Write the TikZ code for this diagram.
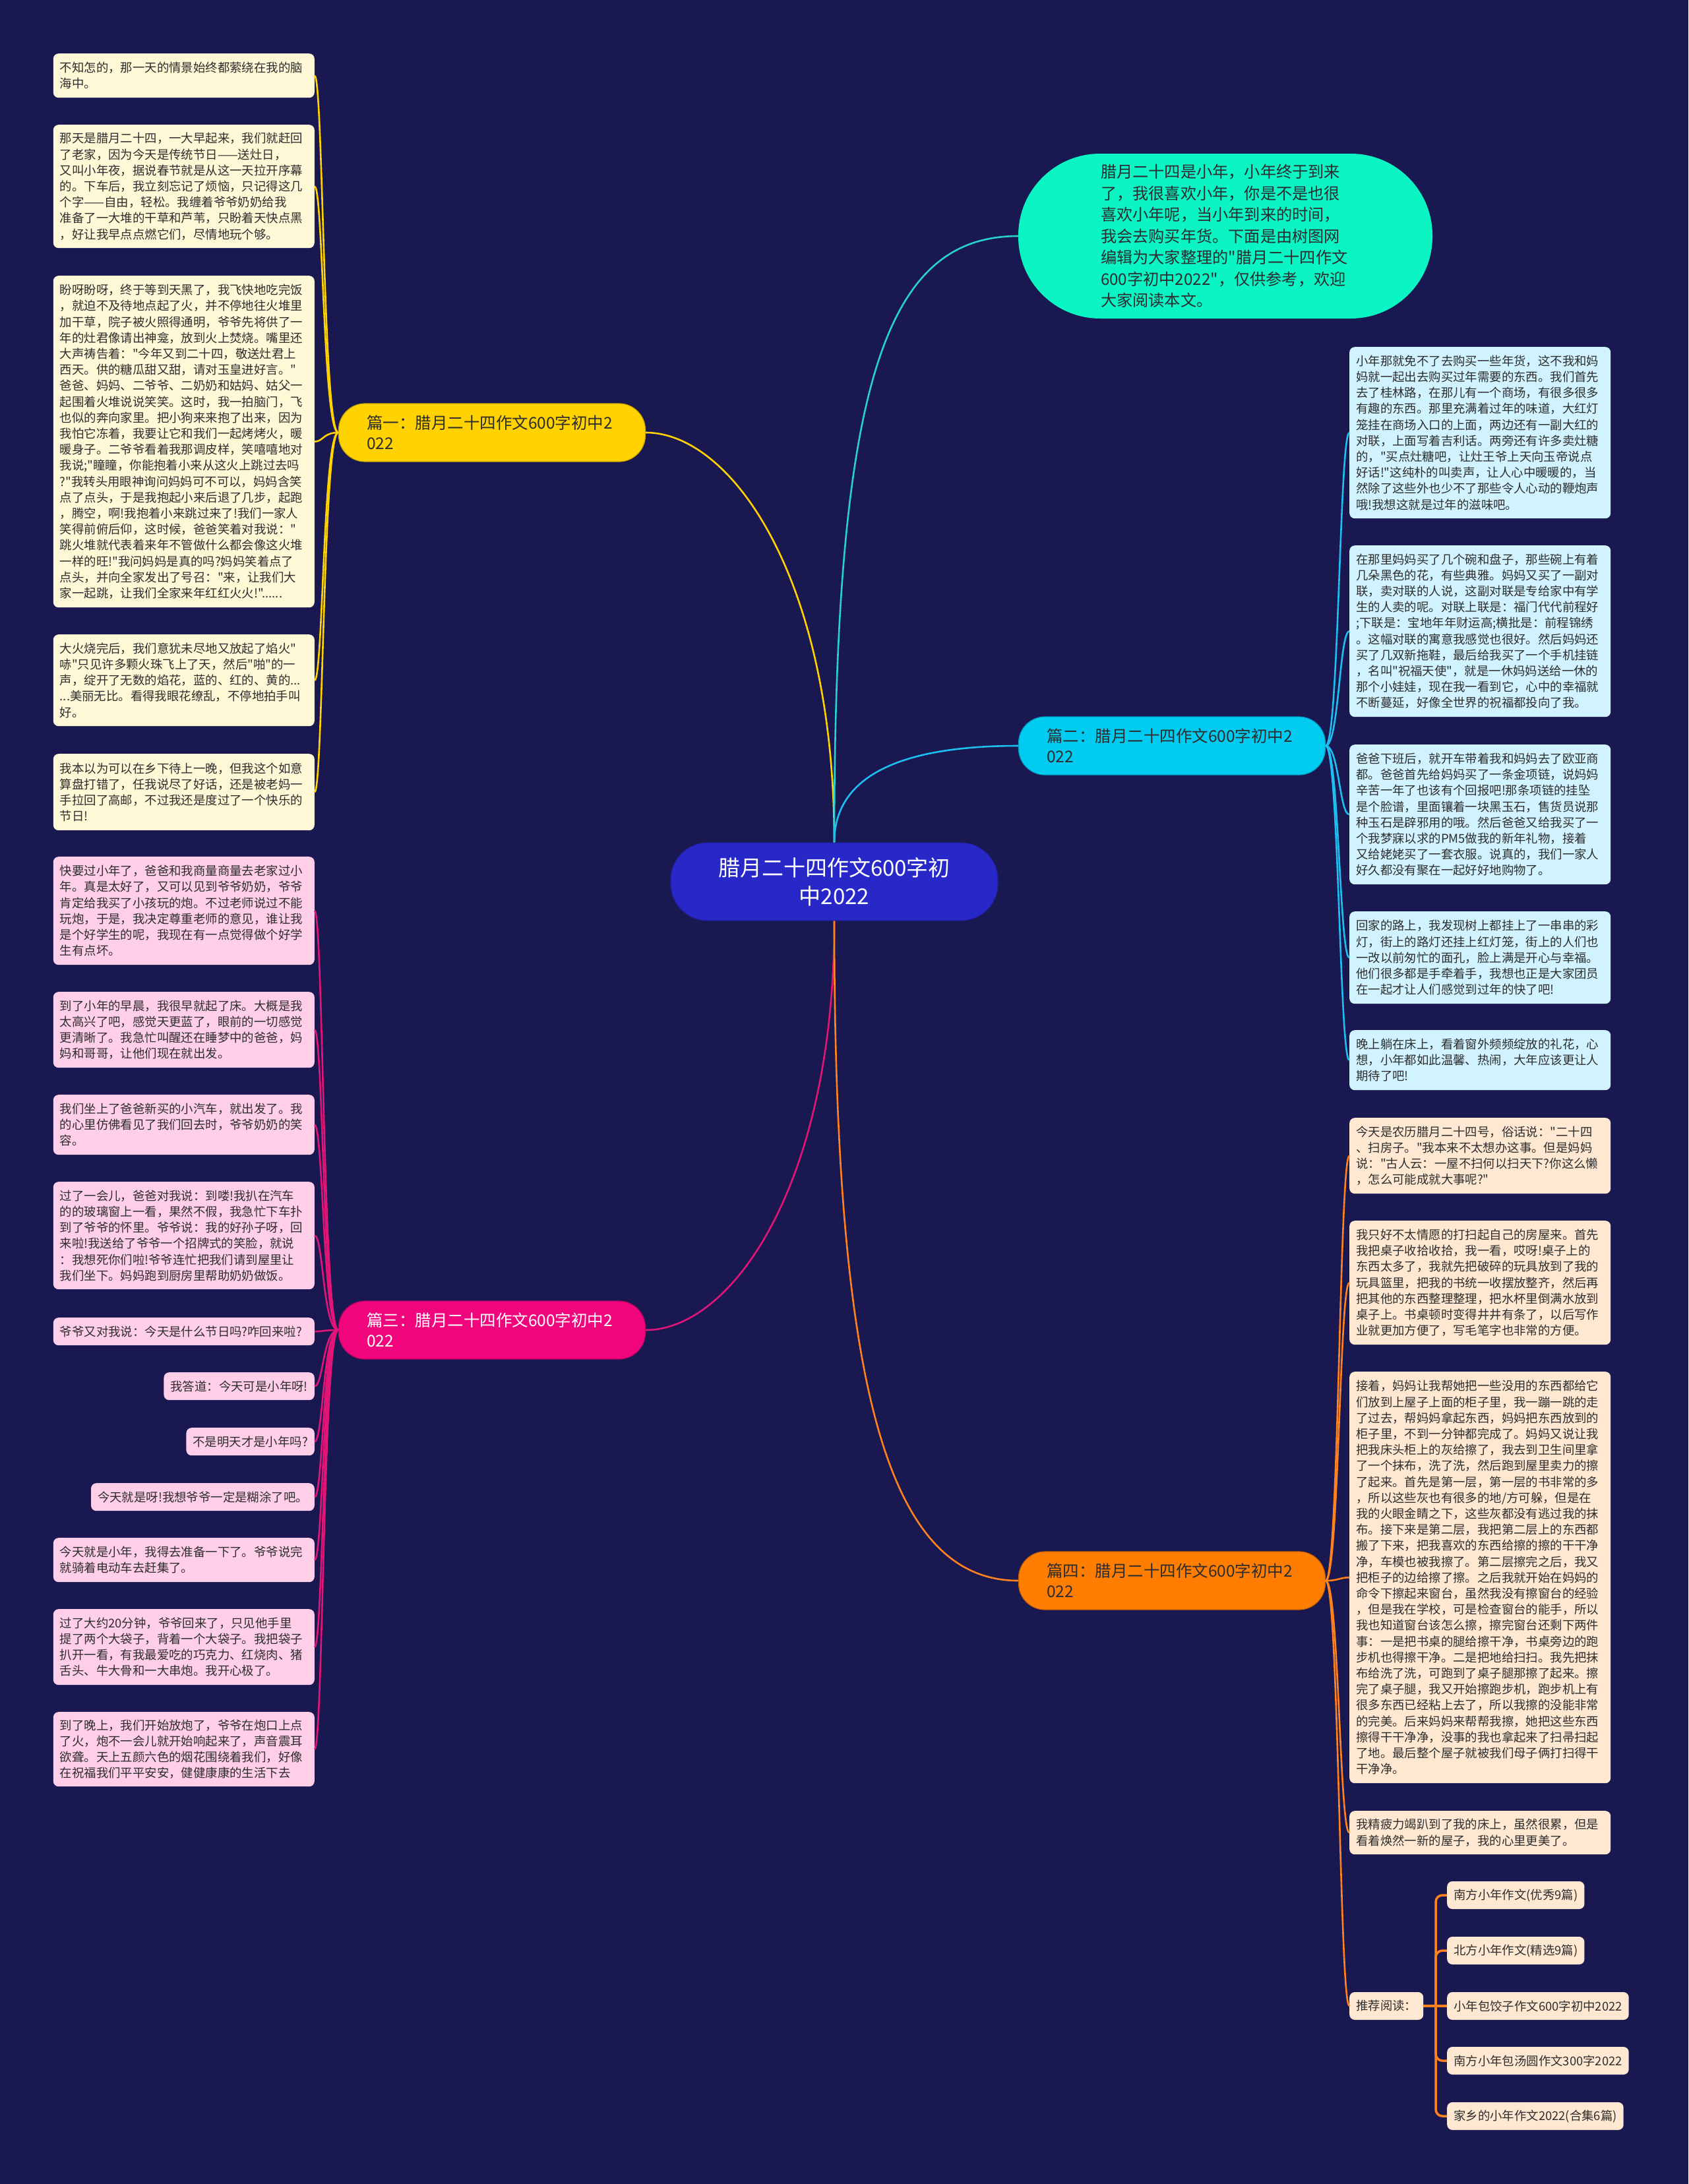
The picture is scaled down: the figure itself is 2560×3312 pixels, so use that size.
\documentclass[tikz,border=0pt]{standalone}
\usepackage{fontspec}
\setmainfont{Noto Sans CJK SC}[Ligatures=TeXOff]
\usetikzlibrary{positioning,calc}
\definecolor{night}{RGB}{25,24,80}
\definecolor{core}{RGB}{40,40,200}
\definecolor{mint}{RGB}{10,245,195}
\definecolor{gold}{RGB}{255,210,0}
\definecolor{sky}{RGB}{0,204,242}
\definecolor{rose}{RGB}{240,5,125}
\definecolor{tangerine}{RGB}{255,125,0}
\definecolor{cream}{RGB}{255,248,214}
\definecolor{blush}{RGB}{255,206,232}
\definecolor{frost}{RGB}{208,243,255}
\definecolor{peach}{RGB}{255,232,210}
\definecolor{ink}{RGB}{45,45,45}
\definecolor{mintline}{RGB}{40,210,200}
\definecolor{skyline}{RGB}{30,190,240}
\definecolor{roseline}{RGB}{225,20,120}
\definecolor{tangline}{RGB}{255,130,30}
\newcommand\leaffont{\fontsize{18.4pt}{24.2pt}\selectfont}
\newcommand\branchfont{\fontsize{24.5pt}{31pt}\selectfont}
\newcommand\corefont{\fontsize{33pt}{43pt}\selectfont}
\newcommand\introfont{\fontsize{24.2pt}{32.5pt}\selectfont}
\tikzset{
  chip/.style={fill=#1,rounded corners=8pt,inner xsep=10pt,inner ysep=3pt,
    text=ink,font=\leaffont,minimum height=42pt},
  chip/.default=cream,
  leaf/.style={chip=#1,text width=376pt,align=left},
  leaf/.default=cream,
  branch/.style={fill=#1,draw=#1!80!black,line width=1.2pt,rounded corners=40pt,
    minimum width=465pt,minimum height=88pt,text width=380pt,align=left,
    inner xsep=42pt,font=\branchfont,text=ink},
  branch/.default=gold,
  link/.style={line width=2.6pt,draw=#1},
  link/.default=gold,
}

\begin{document}
\begin{tikzpicture}[x=1pt,y=-1pt]
  \fill[night] (0,0) rectangle (2560,3312);
  \useasboundingbox (0,0) rectangle (2560,3312);
  % centre and intro
  \node[fill=core,draw=core!80!black,line width=1.2pt,rounded corners=56pt,
    minimum width=496pt,minimum height=118pt,align=center,text=white,font=\corefont]
    (ctr) at (1265,1337) {腊月二十四作文600字初\\中2022};
  \node[fill=mint,rounded corners=124pt,minimum width=628pt,minimum height=250pt,
    text width=378pt,align=left,text=ink!90!night,font=\introfont] (intro) at (1858,358)
    {腊月二十四是小年，小年终于到来\\了，我很喜欢小年，你是不是也很\\喜欢小年呢，当小年到来的时间，\\我会去购买年货。下面是由树图网\\编辑为大家整理的"腊月二十四作文\\600字初中2022"，仅供参考，欢迎\\大家阅读本文。};
  % branches
  \node[branch=gold] (p1) at (746,656) {篇一：腊月二十四作文600字初中2\\022};
  \node[branch=sky] (p2) at (1777,1131) {篇二：腊月二十四作文600字初中2\\022};
  \node[branch=rose,text=white] (p3) at (746,2017) {篇三：腊月二十四作文600字初中2\\022};
  \node[branch=tangerine] (p4) at (1777,2397) {篇四：腊月二十四作文600字初中2\\022};
  % part one
  \node[leaf=cream,minimum height=67pt,anchor=north east] (y1) at (477,81)
    {不知怎的，那一天的情景始终都萦绕在我的脑\\海中。};
  \node[leaf=cream,minimum height=187pt,anchor=north east] (y2) at (477,189)
    {那天是腊月二十四，一大早起来，我们就赶回\\了老家，因为今天是传统节日——送灶日，\\又叫小年夜，据说春节就是从这一天拉开序幕\\的。下车后，我立刻忘记了烦恼，只记得这几\\个字——自由，轻松。我缠着爷爷奶奶给我\\准备了一大堆的干草和芦苇，只盼着天快点黑\\，好让我早点点燃它们，尽情地玩个够。};
  \node[leaf=cream,minimum height=503pt,anchor=north east] (y3) at (477,418)
    {盼呀盼呀，终于等到天黑了，我飞快地吃完饭\\，就迫不及待地点起了火，并不停地往火堆里\\加干草，院子被火照得通明，爷爷先将供了一\\年的灶君像请出神龛，放到火上焚烧。嘴里还\\大声祷告着："今年又到二十四，敬送灶君上\\西天。供的糖瓜甜又甜，请对玉皇进好言。"\\爸爸、妈妈、二爷爷、二奶奶和姑妈、姑父一\\起围着火堆说说笑笑。这时，我一拍脑门，飞\\也似的奔向家里。把小狗来来抱了出来，因为\\我怕它冻着，我要让它和我们一起烤烤火，暖\\暖身子。二爷爷看着我那调皮样，笑嘻嘻地对\\我说;"瞳瞳，你能抱着小来从这火上跳过去吗\\?"我转头用眼神询问妈妈可不可以，妈妈含笑\\点了点头，于是我抱起小来后退了几步，起跑\\，腾空，啊!我抱着小来跳过来了!我们一家人\\笑得前俯后仰，这时候，爸爸笑着对我说："\\跳火堆就代表着来年不管做什么都会像这火堆\\一样的旺!"我问妈妈是真的吗?妈妈笑着点了\\点头，并向全家发出了号召："来，让我们大\\家一起跳，让我们全家来年红红火火!"......};
  \node[leaf=cream,minimum height=139pt,anchor=north east] (y4) at (477,962)
    {大火烧完后，我们意犹未尽地又放起了焰火"\\哧"只见许多颗火珠飞上了天，然后"啪"的一\\声，绽开了无数的焰花，蓝的、红的、黄的...\\...美丽无比。看得我眼花缭乱，不停地拍手叫\\好。};
  \node[leaf=cream,minimum height=116pt,anchor=north east] (y5) at (477,1143)
    {我本以为可以在乡下待上一晚，但我这个如意\\算盘打错了，任我说尽了好话，还是被老妈一\\手拉回了高邮，不过我还是度过了一个快乐的\\节日!};
  % part three
  \node[leaf=blush,minimum height=164pt,anchor=north east] (k1) at (477,1299)
    {快要过小年了，爸爸和我商量商量去老家过小\\年。真是太好了，又可以见到爷爷奶奶，爷爷\\肯定给我买了小孩玩的炮。不过老师说过不能\\玩炮，于是，我决定尊重老师的意见，谁让我\\是个好学生的呢，我现在有一点觉得做个好学\\生有点坏。};
  \node[leaf=blush,minimum height=115pt,anchor=north east] (k2) at (477,1504)
    {到了小年的早晨，我很早就起了床。大概是我\\太高兴了吧，感觉天更蓝了，眼前的一切感觉\\更清晰了。我急忙叫醒还在睡梦中的爸爸，妈\\妈和哥哥，让他们现在就出发。};
  \node[leaf=blush,minimum height=91pt,anchor=north east] (k3) at (477,1660)
    {我们坐上了爸爸新买的小汽车，就出发了。我\\的心里仿佛看见了我们回去时，爷爷奶奶的笑\\容。};
  \node[leaf=blush,minimum height=163pt,anchor=north east] (k4) at (477,1792)
    {过了一会儿，爸爸对我说：到喽!我扒在汽车\\的的玻璃窗上一看，果然不假，我急忙下车扑\\到了爷爷的怀里。爷爷说：我的好孙子呀，回\\来啦!我送给了爷爷一个招牌式的笑脸，就说\\：我想死你们啦!爷爷连忙把我们请到屋里让\\我们坐下。妈妈跑到厨房里帮助奶奶做饭。};
  \node[leaf=blush,anchor=north east] (k5) at (477,1998)
    {爷爷又对我说：今天是什么节日吗?咋回来啦?};
  \node[chip=blush,anchor=north east] (k6) at (477,2081) {我答道：今天可是小年呀!};
  \node[chip=blush,anchor=north east] (k7) at (477,2165) {不是明天才是小年吗?};
  \node[chip=blush,anchor=north east] (k8) at (477,2249) {今天就是呀!我想爷爷一定是糊涂了吧。};
  \node[leaf=blush,minimum height=67pt,anchor=north east] (k9) at (477,2332)
    {今天就是小年，我得去准备一下了。爷爷说完\\就骑着电动车去赶集了。};
  \node[leaf=blush,minimum height=115pt,anchor=north east] (k10) at (477,2440)
    {过了大约20分钟，爷爷回来了，只见他手里\\提了两个大袋子，背着一个大袋子。我把袋子\\扒开一看，有我最爱吃的巧克力、红烧肉、猪\\舌头、牛大骨和一大串炮。我开心极了。};
  \node[leaf=blush,minimum height=113pt,anchor=north east] (k11) at (477,2596)
    {到了晚上，我们开始放炮了，爷爷在炮口上点\\了火，炮不一会儿就开始响起来了，声音震耳\\欲聋。天上五颜六色的烟花围绕着我们，好像\\在祝福我们平平安安，健健康康的生活下去};
  % part two
  \node[leaf=frost,minimum height=260pt,anchor=north west] (b1) at (2046,526)
    {小年那就免不了去购买一些年货，这不我和妈\\妈就一起出去购买过年需要的东西。我们首先\\去了桂林路，在那儿有一个商场，有很多很多\\有趣的东西。那里充满着过年的味道，大红灯\\笼挂在商场入口的上面，两边还有一副大红的\\对联，上面写着吉利话。两旁还有许多卖灶糖\\的，"买点灶糖吧，让灶王爷上天向玉帝说点\\好话!"这纯朴的叫卖声，让人心中暖暖的，当\\然除了这些外也少不了那些令人心动的鞭炮声\\哦!我想这就是过年的滋味吧。};
  \node[leaf=frost,minimum height=260pt,anchor=north west] (b2) at (2046,827)
    {在那里妈妈买了几个碗和盘子，那些碗上有着\\几朵黑色的花，有些典雅。妈妈又买了一副对\\联，卖对联的人说，这副对联是专给家中有学\\生的人卖的呢。对联上联是：福门代代前程好\\;下联是：宝地年年财运高;横批是：前程锦绣\\。这幅对联的寓意我感觉也很好。然后妈妈还\\买了几双新拖鞋，最后给我买了一个手机挂链\\，名叫"祝福天使"，就是一休妈妈送给一休的\\那个小娃娃，现在我一看到它，心中的幸福就\\不断蔓延，好像全世界的祝福都投向了我。};
  \node[leaf=frost,minimum height=212pt,anchor=north west] (b3) at (2046,1129)
    {爸爸下班后，就开车带着我和妈妈去了欧亚商\\都。爸爸首先给妈妈买了一条金项链，说妈妈\\辛苦一年了也该有个回报吧!那条项链的挂坠\\是个脸谱，里面镶着一块黑玉石，售货员说那\\种玉石是辟邪用的哦。然后爸爸又给我买了一\\个我梦寐以求的PM5做我的新年礼物，接着\\又给姥姥买了一套衣服。说真的，我们一家人\\好久都没有聚在一起好好地购物了。};
  \node[leaf=frost,minimum height=140pt,anchor=north west] (b4) at (2046,1382)
    {回家的路上，我发现树上都挂上了一串串的彩\\灯，街上的路灯还挂上红灯笼，街上的人们也\\一改以前匆忙的面孔，脸上满是开心与幸福。\\他们很多都是手牵着手，我想也正是大家团员\\在一起才让人们感觉到过年的快了吧!};
  \node[leaf=frost,minimum height=91pt,anchor=north west] (b5) at (2046,1562)
    {晚上躺在床上，看着窗外频频绽放的礼花，心\\想，小年都如此温馨、热闹，大年应该更让人\\期待了吧!};
  % part four
  \node[leaf=peach,minimum height=115pt,anchor=north west] (o1) at (2046,1695)
    {今天是农历腊月二十四号，俗话说："二十四\\、扫房子。"我本来不太想办这事。但是妈妈\\说："古人云：一屋不扫何以扫天下?你这么懒\\，怎么可能成就大事呢?"};
  \node[leaf=peach,minimum height=188pt,anchor=north west] (o2) at (2046,1851)
    {我只好不太情愿的打扫起自己的房屋来。首先\\我把桌子收拾收拾，我一看，哎呀!桌子上的\\东西太多了，我就先把破碎的玩具放到了我的\\玩具篮里，把我的书统一收摆放整齐，然后再\\把其他的东西整理整理，把水杯里倒满水放到\\桌子上。书桌顿时变得井井有条了，以后写作\\业就更加方便了，写毛笔字也非常的方便。};
  \node[leaf=peach,minimum height=624pt,anchor=north west] (o3) at (2046,2080)
    {接着，妈妈让我帮她把一些没用的东西都给它\\们放到上屋子上面的柜子里，我一蹦一跳的走\\了过去，帮妈妈拿起东西，妈妈把东西放到的\\柜子里，不到一分钟都完成了。妈妈又说让我\\把我床头柜上的灰给擦了，我去到卫生间里拿\\了一个抹布，洗了洗，然后跑到屋里卖力的擦\\了起来。首先是第一层，第一层的书非常的多\\，所以这些灰也有很多的地/方可躲，但是在\\我的火眼金睛之下，这些灰都没有逃过我的抹\\布。接下来是第二层，我把第二层上的东西都\\搬了下来，把我喜欢的东西给擦的擦的干干净\\净，车模也被我擦了。第二层擦完之后，我又\\把柜子的边给擦了擦。之后我就开始在妈妈的\\命令下擦起来窗台，虽然我没有擦窗台的经验\\，但是我在学校，可是检查窗台的能手，所以\\我也知道窗台该怎么擦，擦完窗台还剩下两件\\事：一是把书桌的腿给擦干净，书桌旁边的跑\\步机也得擦干净。二是把地给扫扫。我先把抹\\布给洗了洗，可跑到了桌子腿那擦了起来。擦\\完了桌子腿，我又开始擦跑步机，跑步机上有\\很多东西已经粘上去了，所以我擦的没能非常\\的完美。后来妈妈来帮帮我擦，她把这些东西\\擦得干干净净，没事的我也拿起来了扫帚扫起\\了地。最后整个屋子就被我们母子俩打扫得干\\干净净。};
  \node[leaf=peach,minimum height=66pt,anchor=north west] (o4) at (2046,2746)
    {我精疲力竭趴到了我的床上，虽然很累，但是\\看着焕然一新的屋子，我的心里更美了。};
  % further reading
  \node[chip=peach,anchor=west] (rec) at (2046,3042) {推荐阅读：};
  \node[chip=peach,anchor=west] (r1) at (2194,2874) {南方小年作文(优秀9篇)};
  \node[chip=peach,anchor=west] (r2) at (2194,2958) {北方小年作文(精选9篇)};
  \node[chip=peach,anchor=west] (r3) at (2194,3042) {小年包饺子作文600字初中2022};
  \node[chip=peach,anchor=west] (r4) at (2194,3125) {南方小年包汤圆作文300字2022};
  \node[chip=peach,anchor=west] (r5) at (2194,3209) {家乡的小年作文2022(合集6篇)};
  \coordinate (rt) at (2177,3042);
  % links
  \draw[link=gold] (ctr.north) .. controls +(0,-400) and +(130,0) .. (p1.east);
  \draw[link=mintline] (ctr.north) .. controls +(0,-700) and +(-200,0) .. (intro.west);
  \draw[link=skyline] (ctr.north) .. controls +(0,-100) and +(-180,0) .. (p2.west);
  \draw[link=roseline] (ctr.south) .. controls +(0,400) and +(130,0) .. (p3.east);
  \draw[link=tangline] (ctr.south) .. controls +(0,700) and +(-200,0) .. (p4.west);
  \foreach \n in {y1,y2,y3,y4,y5}
    \draw[link=gold] (p1.west) .. controls +(-23,0) and +(13,0) .. (\n.east);
  \foreach \n in {k1,k2,k3,k4,k5,k6,k7,k8,k9,k10,k11}
    \draw[link=roseline] (p3.west) .. controls +(-23,0) and +(13,0) .. (\n.east);
  \foreach \n in {b1,b2,b3,b4,b5}
    \draw[link=skyline] (p2.east) .. controls +(20,0) and +(-15,0) .. (\n.west);
  \foreach \n in {o1,o2,o3,o4,rec}
    \draw[link=tangline] (p4.east) .. controls +(20,0) and +(-15,0) .. (\n.west);
  \draw[link=tangline,line width=3.5pt] (rec.east) -- (r3.west);
  \foreach \n in {r1,r2,r4,r5}
    \draw[link=tangline,line width=3.5pt,rounded corners=10pt] (rt) |- (\n.west);
\end{tikzpicture}
\end{document}
